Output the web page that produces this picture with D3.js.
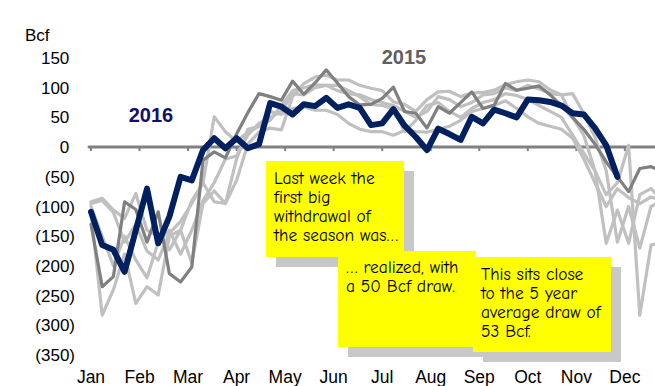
<!DOCTYPE html>
<html>
<head>
<meta charset="utf-8">
<script src="https://cdn.jsdelivr.net/npm/d3@7"></script>
<style>
  html, body { margin: 0; padding: 0; background: #fff; }
  svg { display: block; }
</style>
</head>
<body>
<svg id="chart" width="655" height="386"></svg>
<script>
// Weekly natural gas storage change (Bcf), injections positive, withdrawals negative.
const months = ["Jan","Feb","Mar","Apr","May","Jun","Jul","Aug","Sep","Oct","Nov","Dec"];
const yTicks = [150, 100, 50, 0, -50, -100, -150, -200, -250, -300, -350];

const s2016 = [-109, -165, -173, -210, -140, -70, -162, -117, -50, -56, -5, 15, -2, 15, -2, 5,
  74, 68, 55, 72, 69, 83, 66, 72, 66, 37, 40, 64, 36, 17, -5, 31, 22, 12, 51, 40, 63, 57, 50,
  80, 79, 76, 70, 57, 55, 32, 3, -50];

const s2015 = [-130, -235, -218, -92, -105, -160, -109, -213, -227, -202, -22, -8, -18, 22, 58, 90,
  85, 79, 111, 89, 108, 130, 108, 85, 71, 72, 82, 101, 60, 57, 32, 68, 57, 75, 93, 65, 71, 107,
  96, 99, 103, 88, 70, 50, 30, 5, -25, -50, -75, -36, -33, -40];

const s2014 = [-110, -283, -240, -180, -263, -235, -249, -150, -140, -195, -95, -74, -95, -56, 5, 25,
  32, 29, 85, 107, 118, 121, 113, 113, 104, 99, 95, 76, 72, 60, 80, 93, 94, 85, 91, 92, 96, 105,
  110, 113, 110, 96, 88, 50, 20, -40, -162, -106, -162, -80, -70, -90];

const s2013 = [-100, -150, -200, -150, -190, -220, -160, -140, -180, -140, -90, -60, -20, -15, 20, 40,
  50, 60, 90, 88, 100, 104, 104, 95, 85, 72, 70, 65, 26, 45, 70, 75, 60, 50, 65, 75, 80, 90, 87,
  80, 70, 60, 50, 20, -10, -40, -80, -60, 3, -283, -165, -160];

const s2012 = [-92, -86, -106, -120, -78, -140, -150, -173, -140, -90, -61, 51, 26, 10, 25, 35, 60,
  55, 65, 68, 62, 62, 55, 40, 30, 26, 26, 20, 28, 26, 25, 30, 35, 45, 60, 65, 70, 78, 65, 51, 40,
  35, 30, 15, -20, -60, -100, -70, -85, -95, -84, -90];

const s2011 = [-95, -90, -110, -160, -130, -175, -190, -145, -125, -95, -60, -92, -95, -20, 30, 35,
  45, 70, 95, 100, 105, 104, 95, 90, 88, 80, 75, 70, 60, 50, 60, 85, 80, 68, 75, 88, 90, 100, 95,
  104, 98, 90, 88, 90, 57, 17, -40, -160, -100, -170, -100, -90];

const yearLabels = [{ text: "2016", color: "#10106a" }, { text: "2015", color: "#5f5f5f" }];

const notes = [
  ["Last week the", "first big", "withdrawal of", "the season was…"],
  ["… realized, with", "a 50 Bcf draw."],
  ["This sits close", "to the 5 year", "average draw of", "53 Bcf."]
];

const svg = d3.select("#chart");
const W = 655, H = 386;

// week index -> x, Bcf -> y
const x = d3.scaleLinear().domain([0, 52]).range([91, 91 + 52 * 11.2]);
const y = d3.scaleLinear().domain([-350, 150]).range([355, 58]);
const monthPos = m => x(m * 52 / 12);

const axisFont = "'Liberation Sans', Arial, sans-serif";
const noteFont = "'Comic Sans MS', 'Comic Neue', 'DejaVu Sans', sans-serif";

svg.append("defs").append("clipPath").attr("id", "plotClip")
  .append("rect").attr("x", 0).attr("y", 0).attr("width", W).attr("height", H);

// unit label
svg.append("text").attr("x", 25).attr("y", 41)
  .attr("font-family", axisFont).attr("font-size", 17).attr("fill", "#000")
  .text("Bcf");

// y tick labels, accounting-style negatives in parentheses
const yl = svg.append("g").attr("font-family", axisFont).attr("font-size", 17).attr("fill", "#000");
yTicks.forEach(v => {
  const t = yl.append("text").attr("x", 75).attr("y", y(v) + 6).attr("text-anchor", "end");
  if (v < 0) {
    t.text("(" + (-v) + ")");
  } else {
    t.append("tspan").text(String(v));
    t.append("tspan").attr("fill-opacity", 0).text(")");
  }
});

// zero baseline with month ticks
const y0 = y(0);
svg.append("line").attr("x1", 89).attr("x2", W + 5).attr("y1", y0).attr("y2", y0)
  .attr("stroke", "#808080").attr("stroke-width", 3).attr("stroke-linecap", "round");
svg.append("g").selectAll("line").data(months).join("line")
  .attr("x1", (d, i) => monthPos(i)).attr("x2", (d, i) => monthPos(i))
  .attr("y1", y0).attr("y2", y0 + 4)
  .attr("stroke", "#808080").attr("stroke-width", 2);

// month labels
svg.append("g").selectAll("text").data(months).join("text")
  .attr("x", (d, i) => monthPos(i)).attr("y", 383)
  .attr("text-anchor", "middle")
  .attr("font-family", axisFont).attr("font-size", 17.5).attr("fill", "#000")
  .text(d => d);

// weekly series
const line = d3.line().x((d, i) => x(i)).y(d => y(d));
const plot = svg.append("g").attr("clip-path", "url(#plotClip)");
const series = [
  { values: s2011, color: "#c0c0c0", width: 3.2 },
  { values: s2012, color: "#c0c0c0", width: 3.2 },
  { values: s2013, color: "#c0c0c0", width: 3.2 },
  { values: s2014, color: "#c0c0c0", width: 3.2 },
  { values: s2015, color: "#808080", width: 3.2 },
  { values: s2016, color: "#002060", width: 6 }
];
series.forEach(s => {
  plot.append("path").datum(s.values)
    .attr("d", line)
    .attr("fill", "none")
    .attr("stroke", s.color)
    .attr("stroke-width", s.width)
    .attr("stroke-linejoin", "round")
    .attr("stroke-linecap", "round");
});

// year labels
svg.append("text").attr("x", 151).attr("y", 122).attr("text-anchor", "middle")
  .attr("font-family", axisFont).attr("font-size", 20).attr("font-weight", "bold")
  .attr("fill", yearLabels[0].color).text(yearLabels[0].text);
svg.append("text").attr("x", 404).attr("y", 64).attr("text-anchor", "middle")
  .attr("font-family", axisFont).attr("font-size", 20).attr("font-weight", "bold")
  .attr("fill", yearLabels[1].color).text(yearLabels[1].text);

// sticky-note callouts with drop shadows
const boxes = [
  { x: 266, y: 161, w: 138, h: 96, tx: 274, ty: 184, lines: notes[0] },
  { x: 338, y: 251, w: 138, h: 96, tx: 346, ty: 273, lines: notes[1] },
  { x: 473, y: 257, w: 138, h: 95, tx: 481, ty: 280, lines: notes[2] }
];
const nb = svg.append("g");
boxes.forEach(b => {
  nb.append("rect").attr("x", b.x + 10).attr("y", b.y + 10).attr("width", b.w).attr("height", b.h)
    .attr("fill", "#c8c8c8");
  nb.append("rect").attr("x", b.x).attr("y", b.y).attr("width", b.w).attr("height", b.h)
    .attr("fill", "#ffff00");
  const t = nb.append("text").attr("font-family", noteFont).attr("font-size", 17.5).attr("fill", "#000");
  b.lines.forEach((s, i) => {
    t.append("tspan").attr("x", b.tx).attr("y", b.ty + i * 19).text(s);
  });
});
</script>
</body>
</html>
